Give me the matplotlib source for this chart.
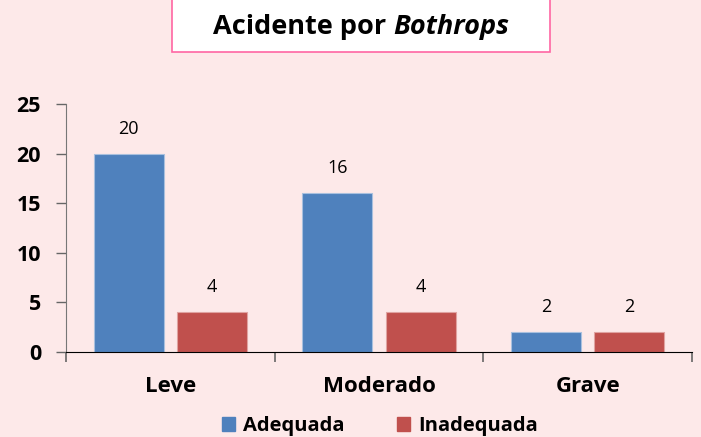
import matplotlib.pyplot as plt
import numpy as np
from matplotlib.patches import Rectangle, Patch

# data
categories = ['Leve', 'Moderado', 'Grave']
series_names = ['Adequada', 'Inadequada']
adequada = [20, 16, 2]
inadequada = [4, 4, 2]
y_ticks = [0, 5, 10, 15, 20, 25]

blue = '#4F81BD'
red = '#C0504D'
bg = '#FDE9E9'

plt.rcParams['font.family'] = ['Open Sans', 'DejaVu Sans']

fig = plt.figure(figsize=(7.01, 4.37), dpi=100)
fig.patch.set_facecolor(bg)

ax = fig.add_axes([66 / 701, 1 - 352 / 437, (692 - 66) / 701, (352 - 104) / 437])
ax.set_facecolor(bg)

x = np.arange(len(categories))
w = 0.335
b1 = ax.bar(x - 0.2, adequada, w, color=blue, edgecolor='#A9C0DE', linewidth=0.8)
b2 = ax.bar(x + 0.2, inadequada, w, color=red, edgecolor='#E0A3A1', linewidth=0.8)

# value labels
for bars in (b1, b2):
    for r in bars:
        ax.text(r.get_x() + r.get_width() / 2, r.get_height() + 1.6,
                str(int(r.get_height())), ha='center', va='bottom', fontsize=13)

ax.set_xlim(-0.5, 2.5)
ax.set_ylim(0, 25)
ax.set_yticks(y_ticks)
ax.set_yticklabels([str(t) for t in y_ticks], fontsize=15.5, fontweight='bold')

# category labels + boundary ticks
ax.set_xticks(x)
ax.set_xticklabels(categories, fontsize=16, fontweight='bold')
ax.tick_params(axis='x', length=0, pad=17)
ax.set_xticks([-0.5, 0.5, 1.5, 2.5], minor=True)
ax.tick_params(axis='x', which='minor', length=7, width=1.2, color='#666666')
ax.tick_params(axis='y', length=7, width=1, color='#666666', pad=11)

ax.spines['right'].set_color('none')
ax.spines['top'].set_color('none')
ax.spines['left'].set_color('#777777')
ax.spines['bottom'].set_color('black')

# title box
fig.patches.append(Rectangle((172 / 701, 1 - 52 / 437), 378 / 701, 60 / 437,
                             transform=fig.transFigure, facecolor='white',
                             edgecolor='#FF66A3', linewidth=1.2))
t1 = fig.text(0, 1 - 27 / 437, 'Acidente por ', ha='left', va='center',
              fontsize=19.5, fontweight='bold')
t2 = fig.text(0, 1 - 27 / 437, 'Bothrops', ha='left', va='center',
              fontsize=19.5, fontweight='bold', style='italic')
fig.canvas.draw()
r = fig.canvas.get_renderer()
w1 = t1.get_window_extent(r).width
w2 = t2.get_window_extent(r).width
x0 = 361 - (w1 + w2) / 2
t1.set_x(x0 / 701)
t2.set_x((x0 + w1) / 701)

# legend
handles = [Patch(color=blue), Patch(color=red)]
fig.legend(handles, series_names, loc='center', bbox_to_anchor=(380 / 701, 1 - 426 / 437),
           ncol=2, frameon=False, handlelength=0.65, handleheight=0.65, handletextpad=0.4,
           columnspacing=2.6, prop={'size': 14.5, 'weight': 'bold'})

fig.savefig('out.png', dpi=100, facecolor=bg)
